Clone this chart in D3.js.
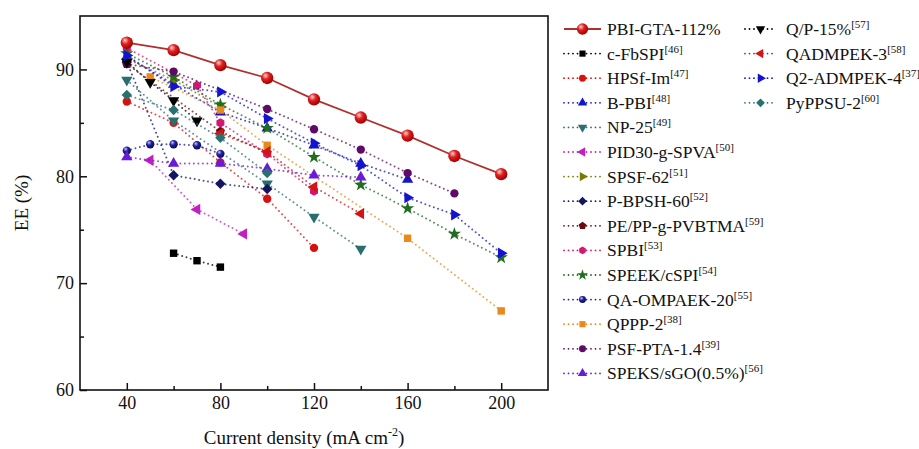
<!DOCTYPE html>
<html>
<head>
<meta charset="utf-8">
<script src="https://cdn.jsdelivr.net/npm/d3@7"></script>
<style>
  body { margin: 0; background: #fff; }
  text { font-family: "Liberation Serif", "Times New Roman", serif; fill: #111; }
</style>
</head>
<body>
<div id="chart"></div>
<script>
// EE vs current density
var pbiGta    = [[40, 92.5], [60, 91.8], [80, 90.4], [100, 89.2], [120, 87.2], [140, 85.5], [160, 83.8], [180, 81.9], [200, 80.2]];
var cFbSpi    = [[60, 72.8], [70, 72.1], [80, 71.5]];
var hpsfIm    = [[40, 87.0], [60, 85.0], [80, 81.3], [100, 77.9], [120, 73.3]];
var bPbi      = [[40, 91.2], [60, 88.6], [80, 86.0], [100, 84.5], [120, 82.9], [140, 81.2], [160, 79.7]];
var np25      = [[40, 89.0], [60, 85.2], [100, 79.3], [120, 76.2], [140, 73.2]];
var pid30     = [[50, 81.5], [70, 76.9], [90, 74.6]];
var spsf62    = [[40, 91.0], [60, 89.0], [80, 86.5]];
var pBpsh60   = [[40, 90.7], [60, 80.1], [80, 79.3], [100, 78.8]];
var pePp      = [[40, 90.5], [80, 84.2], [100, 82.2]];
var spbi      = [[40, 92.0], [70, 88.5], [80, 85.0], [100, 82.1], [120, 78.6]];
var speekCspi = [[40, 91.5], [60, 89.3], [80, 86.7], [100, 84.5], [120, 81.8], [140, 79.2], [160, 77.0], [180, 74.6], [200, 72.4]];
var qaOmpaek  = [[40, 82.4], [50, 83.0], [60, 83.0], [70, 82.9], [80, 82.1]];
var qppp2     = [[50, 89.3], [80, 86.2], [100, 82.9], [160, 74.2], [200, 67.4]];
var psfPta    = [[40, 90.5], [60, 89.8], [100, 86.3], [120, 84.4], [140, 82.5], [160, 80.3], [180, 78.4]];
var speksSgo  = [[40, 81.8], [60, 81.2], [80, 81.2], [100, 80.7], [120, 80.1], [140, 79.9]];
var qp15      = [[40, 90.7], [50, 88.8], [60, 87.1], [70, 85.2]];
var qadmpek3  = [[80, 84.0], [100, 82.3], [120, 79.0], [140, 76.5]];
var q2admpek4 = [[40, 91.3], [60, 88.4], [80, 87.9], [100, 85.4], [120, 83.1], [140, 81.0], [160, 78.0], [180, 76.4], [200, 72.8]];
var pyppsu2   = [[40, 87.6], [60, 86.2], [80, 83.6], [100, 80.3]];

var names = ["PBI-GTA-112%", "c-FbSPI", "HPSf-Im", "B-PBI", "NP-25", "PID30-g-SPVA", "SPSF-62", "P-BPSH-60",
  "PE/PP-g-PVBTMA", "SPBI", "SPEEK/cSPI", "QA-OMPAEK-20", "QPPP-2", "PSF-PTA-1.4", "SPEKS/sGO(0.5%)",
  "Q/P-15%", "QADMPEK-3", "Q2-ADMPEK-4", "PyPPSU-2"];
var refs = ["", "[46]", "[47]", "[48]", "[49]", "[50]", "[51]", "[52]", "[59]", "[53]", "[54]", "[55]", "[38]", "[39]", "[56]",
  "[57]", "[58]", "[37]", "[60]"];
var xTicks = [40, 80, 120, 160, 200];
var xMinor = [60, 100, 140, 180];
var yTicks = [60, 70, 80, 90];
var yMinor = [65, 75, 85];

var svgWidth = 919;
var svgHeight = 449;
var plot = { left: 80, right: 548, top: 16, bottom: 390 };

var svg = d3.select("#chart")
  .append("svg")
  .attr("width", svgWidth)
  .attr("height", svgHeight);

var defs = svg.append("defs");
function ballGradient(id, light, base, dark) {
  var g = defs.append("radialGradient").attr("id", id)
    .attr("cx", "40%").attr("cy", "35%").attr("r", "65%").attr("fx", "35%").attr("fy", "30%");
  g.append("stop").attr("offset", "0%").attr("stop-color", light);
  g.append("stop").attr("offset", "45%").attr("stop-color", base);
  g.append("stop").attr("offset", "100%").attr("stop-color", dark);
}
ballGradient("ballRed", "#ffd0d0", "#e02020", "#a00000");
ballGradient("ballNavy", "#c8c8ff", "#2020a0", "#0a0a50");

// extra symbol shapes
function polygon(n) {
  return {
    draw: function(ctx, size) {
      var r = Math.sqrt(size / (n / 2 * Math.sin(2 * Math.PI / n)));
      for (var i = 0; i < n; i++) {
        var a = -Math.PI / 2 + i * 2 * Math.PI / n;
        if (i === 0) ctx.moveTo(r * Math.cos(a), r * Math.sin(a));
        else ctx.lineTo(r * Math.cos(a), r * Math.sin(a));
      }
      ctx.closePath();
    }
  };
}

var seriesData = [pbiGta, cFbSpi, hpsfIm, bPbi, np25, pid30, spsf62, pBpsh60, pePp, spbi, speekCspi,
  qaOmpaek, qppp2, psfPta, speksSgo, qp15, qadmpek3, q2admpek4, pyppsu2];
var styles = [
  { color: "#c01818", line: "#b03030", shape: d3.symbolCircle, rot: 0, fill: "url(#ballRed)", size: 120 },
  { color: "#000000", shape: d3.symbolSquare, rot: 0 },
  { color: "#d81010", shape: d3.symbolCircle, rot: 0 },
  { color: "#1515c8", shape: d3.symbolTriangle, rot: 0 },
  { color: "#2b6e6e", shape: d3.symbolTriangle, rot: 180 },
  { color: "#c21fc2", shape: d3.symbolTriangle, rot: -90 },
  { color: "#7a7a00", shape: d3.symbolTriangle, rot: 90 },
  { color: "#141460", shape: d3.symbolSquare, rot: 45 },
  { color: "#6a0a0a", shape: polygon(5), rot: 0 },
  { color: "#d0186e", shape: polygon(6), rot: 0 },
  { color: "#1f6e1f", shape: d3.symbolStar, rot: 0 },
  { color: "#1e1e90", shape: d3.symbolCircle, rot: 0, fill: "url(#ballNavy)" },
  { color: "#e8891c", shape: d3.symbolSquare, rot: 0 },
  { color: "#5e0a66", shape: d3.symbolCircle, rot: 0 },
  { color: "#6a1ad8", shape: d3.symbolTriangle, rot: 0 },
  { color: "#000000", shape: d3.symbolTriangle, rot: 180 },
  { color: "#d41414", shape: d3.symbolTriangle, rot: -90 },
  { color: "#1414d0", shape: d3.symbolTriangle, rot: 90 },
  { color: "#2b7070", shape: d3.symbolSquare, rot: 45 }
];

var series = names.map(function(n, i) {
  return Object.assign({ name: n, ref: refs[i], values: seriesData[i] }, styles[i]);
});

var x = d3.scaleLinear().domain([20, 220]).range([plot.left, plot.right]);
var y = d3.scaleLinear().domain([60, 95]).range([plot.bottom, plot.top]);

// axes, ticks pointing inward
var bottomAxis = d3.axisBottom(x).tickValues(xTicks).tickSizeInner(-7).tickSizeOuter(0).tickPadding(6);
var bottomMinor = d3.axisBottom(x).tickValues(xMinor).tickSizeInner(-4).tickSizeOuter(0).tickFormat("");
var leftAxis = d3.axisLeft(y).tickValues(yTicks).tickSizeInner(-7).tickSizeOuter(0).tickPadding(6);
var leftMinor = d3.axisLeft(y).tickValues(yMinor).tickSizeInner(-4).tickSizeOuter(0).tickFormat("");

[[bottomAxis, "b"], [bottomMinor, "b"], [leftAxis, "l"], [leftMinor, "l"]].forEach(function(a) {
  var g = svg.append("g")
    .attr("transform", a[1] === "b" ? "translate(0," + plot.bottom + ")" : "translate(" + plot.left + ",0)")
    .call(a[0]);
  g.select(".domain").remove();
  g.selectAll("line").attr("stroke", "#111").attr("stroke-width", 1.5);
  g.selectAll("text").attr("font-size", "18px").attr("fill", "#111")
    .attr("font-family", "'Liberation Serif', serif");
});

svg.append("rect")
  .attr("x", plot.left).attr("y", plot.top)
  .attr("width", plot.right - plot.left).attr("height", plot.bottom - plot.top)
  .attr("fill", "none").attr("stroke", "#111").attr("stroke-width", 1.6);

var line = d3.line().x(function(d) { return x(d[0]); }).y(function(d) { return y(d[1]); });

function marker(sel, s, size) {
  sel.attr("d", d3.symbol().type(s.shape).size(size))
    .attr("fill", s.fill || s.color);
}

var chartGroup = svg.append("g");

// dotted series first, PBI-GTA on top
series.slice(1).concat([series[0]]).forEach(function(s) {
  var main = s.name === "PBI-GTA-112%";
  chartGroup.append("path")
    .datum(s.values)
    .attr("d", line)
    .attr("fill", "none")
    .attr("stroke", s.line || s.color)
    .attr("stroke-width", main ? 1.8 : 2)
    .attr("stroke-linecap", main ? "butt" : "round")
    .attr("stroke-dasharray", main ? null : "0,4.5")
    .attr("opacity", main ? 1 : 0.75);

  chartGroup.selectAll(null)
    .data(s.values)
    .enter()
    .append("path")
    .attr("transform", function(d) { return "translate(" + x(d[0]) + "," + y(d[1]) + ") rotate(" + s.rot + ")"; })
    .call(marker, s, s.size || 55);
});

// legend
var legend = svg.append("g");
series.forEach(function(s, i) {
  var col = i < 15 ? 0 : 1;
  var row = col === 0 ? i : i - 15;
  var x0 = col === 0 ? 564 : 745;
  var x1 = col === 0 ? 601 : 776;
  var tx = col === 0 ? 607 : 786;
  var cy = 29 + row * 24.6;
  var main = i === 0;
  var g = legend.append("g");
  g.append("line")
    .attr("x1", x0).attr("x2", x1).attr("y1", cy).attr("y2", cy)
    .attr("stroke", s.line || s.color)
    .attr("stroke-width", 1.8)
    .attr("stroke-linecap", main ? "butt" : "round")
    .attr("stroke-dasharray", main ? null : "0,4.5");
  g.append("path")
    .attr("transform", "translate(" + ((x0 + x1) / 2) + "," + cy + ") rotate(" + s.rot + ")")
    .call(marker, s, main ? 100 : 38);
  var t = g.append("text").attr("x", tx).attr("y", cy + 6).attr("font-size", "17.5px");
  t.append("tspan").text(s.name);
  if (s.ref) {
    t.append("tspan").attr("font-size", "11px").attr("dy", -7).text(s.ref);
  }
});

// axis titles
svg.append("text")
  .attr("transform", "translate(28," + ((plot.top + plot.bottom) / 2) + ") rotate(-90)")
  .attr("text-anchor", "middle")
  .attr("font-size", "19px")
  .text("EE (%)");

var xt = svg.append("text")
  .attr("x", 304)
  .attr("y", 444)
  .attr("text-anchor", "middle")
  .attr("font-size", "19px");
xt.append("tspan").text("Current density (mA cm");
xt.append("tspan").attr("font-size", "12px").attr("dy", -8).text("-2");
xt.append("tspan").attr("dy", 8).text(")");
</script>
</body>
</html>
